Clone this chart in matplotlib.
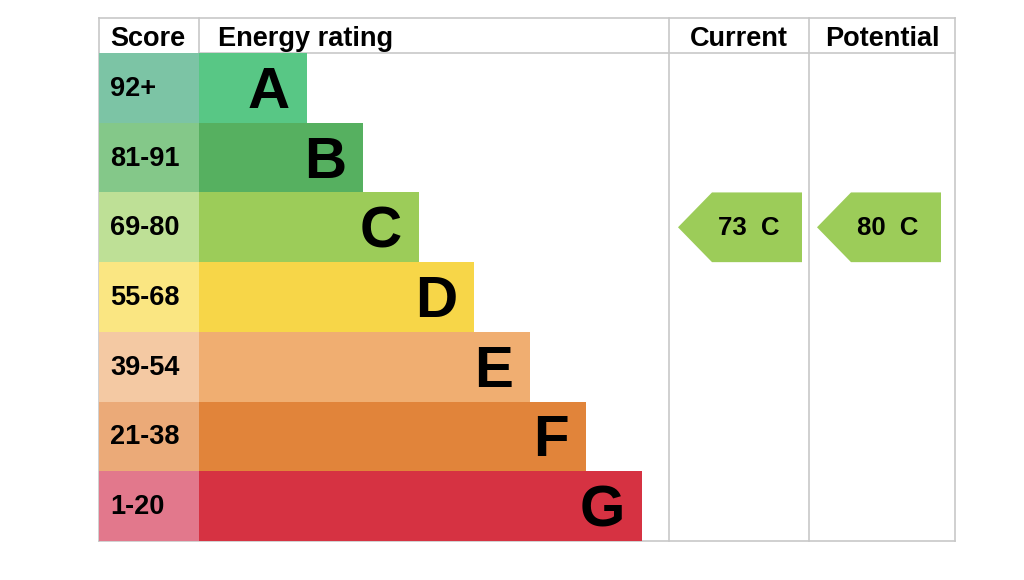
import matplotlib.pyplot as plt
from matplotlib.patches import Rectangle, Polygon

plt.rcParams['font.family'] = ['Liberation Sans', 'DejaVu Sans']

# EPC bands
bands = ['A', 'B', 'C', 'D', 'E', 'F', 'G']
score_labels = ['92+', '81-91', '69-80', '55-68', '39-54', '21-38', '1-20']
band_min = [92, 81, 69, 55, 39, 21, 1]
bar_colors = ['#58c785', '#56b060', '#9ccc59', '#f7d648', '#f0ae71', '#e1843a', '#d63242']
cell_colors = ['#7cc4a5', '#84c889', '#bee096', '#fae682', '#f4c9a3', '#ebaa78', '#e2788c']
current = 73
potential = 80

# layout in pixels
left, right, top, bottom = 99, 955, 18, 541
header_h = 35
col_score, col_cur, col_pot = 199, 669, 809
row_h = (bottom - top - header_h) / len(bands)
bar_first, bar_step = 307, 55.8
grid = '#c8c8c8'


def band_of(score):
    for i, lo in enumerate(band_min):
        if score >= lo:
            return i
    return len(bands) - 1


fig = plt.figure(figsize=(10.24, 5.8), dpi=100)
ax = fig.add_axes([0, 0, 1, 1])
ax.set_xlim(0, 1024)
ax.set_ylim(580, 0)
ax.axis('off')

y0 = top + header_h

# table lines
lw = 1.2
ax.plot([left, right], [top, top], color=grid, lw=lw)
ax.plot([left, right], [bottom, bottom], color=grid, lw=lw)
ax.plot([col_score, right], [y0, y0], color=grid, lw=lw)
ax.plot([left, left], [top, bottom], color=grid, lw=lw)
ax.plot([col_score, col_score], [top, y0], color=grid, lw=lw)
for x in (col_cur, col_pot, right):
    ax.plot([x, x], [top, bottom], color=grid, lw=lw)

# headers
hy = top + header_h / 2 + 4
ax.text(110, hy, 'Score', fontsize=19.5, fontweight='bold', va='center', ha='left')
ax.text(218, hy, 'Energy rating', fontsize=19.5, fontweight='bold', va='center', ha='left')
ax.text((col_cur + col_pot) / 2, hy, 'Current', fontsize=19.5, fontweight='bold',
        va='center', ha='center')
ax.text((col_pot + right) / 2, hy, 'Potential', fontsize=19.5, fontweight='bold',
        va='center', ha='center')

# bands
for i, b in enumerate(bands):
    ry = y0 + i * row_h
    ax.add_patch(Rectangle((left, ry), col_score - left, row_h, facecolor=cell_colors[i],
                           edgecolor='none', zorder=2))
    bar_end = bar_first + i * bar_step
    ax.add_patch(Rectangle((col_score, ry), bar_end - col_score, row_h,
                           facecolor=bar_colors[i], edgecolor='none', zorder=2))
    ax.text(110, ry + row_h / 2 + 1, score_labels[i], fontsize=19.5, fontweight='bold',
            va='center', ha='left', zorder=3)
    ax.text(bar_end - 17, ry + row_h / 2 + 5, b, fontsize=42, fontweight='bold',
            va='center', ha='right', zorder=3)


def arrow(x_left, x_right, score):
    i = band_of(score)
    ry = y0 + i * row_h
    notch = x_left + 34
    pts = [(x_left, ry + row_h / 2), (notch, ry), (x_right, ry),
           (x_right, ry + row_h), (notch, ry + row_h)]
    ax.add_patch(Polygon(pts, closed=True, facecolor=bar_colors[i], edgecolor='none', zorder=2))
    ax.text((notch + x_right) / 2 - 8, ry + row_h / 2 + 1, f'{score}  {bands[i]}',
            fontsize=18.5, fontweight='bold', va='center', ha='center', zorder=3)


arrow(col_cur + 9, col_pot - 7, current)
arrow(col_pot + 8, right - 14, potential)

fig.savefig('out.png', dpi=100)
